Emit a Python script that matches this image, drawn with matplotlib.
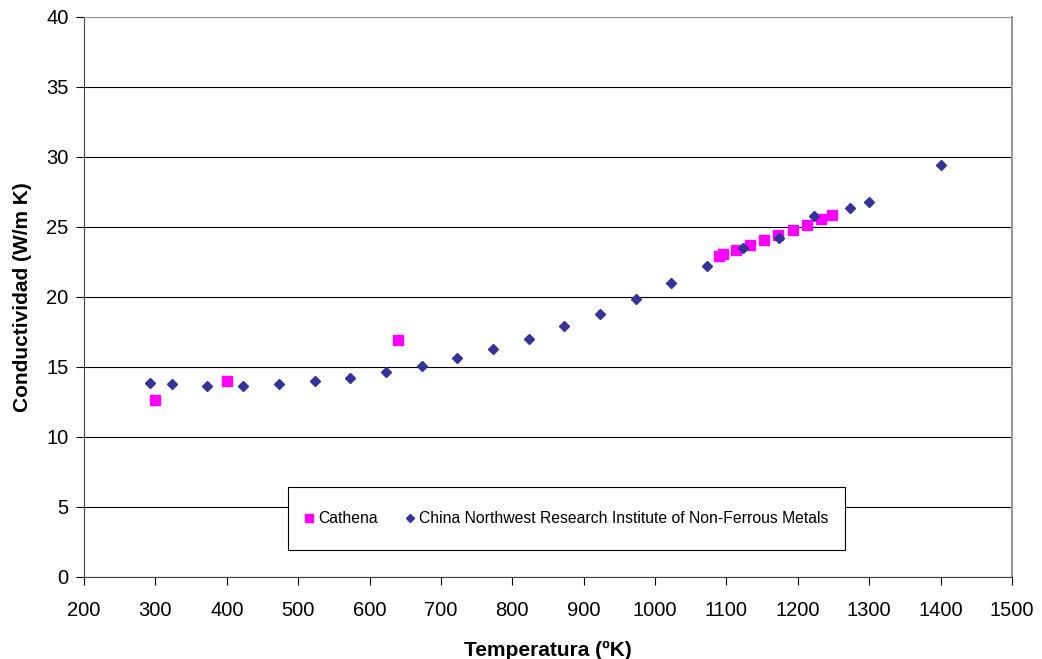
import matplotlib
matplotlib.use("Agg")
import matplotlib.pyplot as plt
from matplotlib.patches import Rectangle

plt.rcParams["font.family"] = ["Liberation Sans", "DejaVu Sans"]

# Cathena data
cathena_t = [300, 400, 640, 1090, 1095, 1113, 1133, 1152, 1172, 1193, 1213, 1233, 1248]
cathena_k = [12.65, 14.0, 16.9, 22.95, 23.05, 23.35, 23.7, 24.05, 24.45, 24.8, 25.15, 25.55, 25.85]

# China Northwest Research Institute of Non-Ferrous Metals data
china_t = [293, 323, 373, 423, 473, 523, 573, 623, 673, 723, 773, 823, 873, 923, 973,
           1023, 1073, 1123, 1173, 1223, 1273, 1300, 1400]
china_k = [13.88, 13.77, 13.67, 13.67, 13.8, 13.98, 14.25, 14.63, 15.1, 15.65, 16.3, 17.03,
           17.9, 18.8, 19.85, 20.97, 22.2, 23.5, 24.22, 25.8, 26.33, 26.78, 29.4]

fig = plt.figure(figsize=(10.42, 6.59), dpi=100)
ax = fig.add_axes([84 / 1042, 1 - 577 / 659, 928 / 1042, 560 / 659])

ax.plot(cathena_t, cathena_k, linestyle="none", marker="s", markersize=7,
        color="#ff00ff", label="Cathena")
ax.plot(china_t, china_k, linestyle="none", marker="D", markersize=5,
        color="#333399", label="China Northwest Research Institute of Non-Ferrous Metals")

ax.set_xlim(200, 1500)
ax.set_ylim(0, 40)
ax.set_xticks(range(200, 1501, 100))
ax.set_yticks(range(0, 41, 5))
ax.yaxis.grid(True, color="black", linewidth=0.8)
ax.set_axisbelow(True)

ax.tick_params(direction="out", length=6, labelsize=14.5, colors="black")
ax.tick_params(axis="x", pad=11)
ax.tick_params(axis="y", pad=5)
ax.spines["left"].set_color("#444444")
ax.spines["bottom"].set_color("#444444")
ax.spines["right"].set_color("#999999")
ax.spines["right"].set_linewidth(1.5)
ax.spines["top"].set_color("#999999")

ax.set_xlabel("Temperatura (ºK)", fontsize=15, fontweight="bold", labelpad=15)
ax.set_ylabel("Conductividad (W/m K)", fontsize=15, fontweight="bold", labelpad=10)

# legend box (white frame drawn separately so it can be taller than the text)
box = ((288 - 84) / 928, (577 - 550) / 560, (845 - 288) / 928, (550 - 487) / 560)
ax.add_patch(Rectangle(box[:2], box[2], box[3], transform=ax.transAxes,
                       facecolor="white", edgecolor="black", linewidth=0.8, zorder=5))
leg = ax.legend(loc="center", bbox_to_anchor=box,
                ncol=2, mode="expand", fontsize=11.3, frameon=False,
                handlelength=0.6, handletextpad=0.3, columnspacing=2.5,
                borderaxespad=0, borderpad=1.05, markerscale=0.8)
leg.set_zorder(6)

fig.savefig("out.png", dpi=100)
